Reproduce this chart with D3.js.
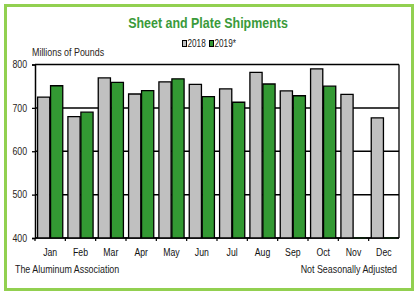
<!DOCTYPE html>
<meta charset="utf-8">
<style>
body { margin: 0; background: #fff; }
text { font-family: "Liberation Sans", Arial, sans-serif; }
</style>
<body>
<script src="https://cdn.jsdelivr.net/npm/d3@7"></script>
<script>

// chart data
var months = ["Jan", "Feb", "Mar", "Apr", "May", "Jun", "Jul", "Aug", "Sep", "Oct", "Nov", "Dec"];
var seriesNames = ["2018", "2019*"];
var values2018 = [725, 680, 769, 732, 760, 754, 744, 782, 739, 790, 731, 677];
var values2019 = [751, 690, 759, 740, 767, 726, 713, 755, 728, 750, null, null];
var yTicks = [400, 500, 600, 700, 800];

var colors = ["#c0c0c0", "#339933"];

var W = 418, H = 296;
var margin = {top: 64.5, right: 19, bottom: 58, left: 35},
    width = W - margin.left - margin.right,
    height = H - margin.top - margin.bottom;

// narrow look: squeeze text horizontally around its anchor point
function narrow(sel, sx) {
  sel.each(function() {
    var t = d3.select(this);
    var tx = +t.attr("x") || 0, ty = +t.attr("y") || 0;
    t.attr("x", 0).attr("y", 0)
     .attr("transform", "translate(" + tx + "," + ty + ") scale(" + sx + ",1)");
  });
}

var svg = d3.select("body").append("svg")
    .attr("width", W)
    .attr("height", H);

// green frame
svg.append("rect")
    .attr("x", 5.5).attr("y", 5.5)
    .attr("width", W - 11).attr("height", H - 12)
    .attr("fill", "#fff")
    .attr("stroke", "#92d050")
    .attr("stroke-width", 3);

// title
svg.append("text")
    .attr("x", 208).attr("y", 28)
    .attr("text-anchor", "middle")
    .attr("fill", "#3a9a3a")
    .attr("font-weight", "bold")
    .attr("font-size", 15)
    .text("Sheet and Plate Shipments")
    .call(narrow, 0.83);

// legend
var legend = svg.append("g")
    .attr("font-size", 10)
    .selectAll("g")
    .data(seriesNames)
    .enter().append("g")
    .attr("transform", function(d, i) { return "translate(" + (182 + i * 27) + ",47)"; });

legend.append("rect")
    .attr("x", 0.5).attr("y", -6.5)
    .attr("width", 4).attr("height", 6)
    .attr("fill", function(d, i) { return colors[i]; })
    .attr("stroke", "#000")
    .attr("stroke-width", 1);

legend.append("text")
    .attr("x", 5.5)
    .attr("y", 0)
    .attr("fill", "#222")
    .text(function(d) { return d; })
    .call(narrow, 0.82);

svg.append("text")
    .attr("x", 32).attr("y", 55.5)
    .attr("font-size", 10)
    .attr("fill", "#2a2420")
    .text("Millions of Pounds")
    .call(narrow, 0.89);

var g = svg.append("g")
    .attr("transform", "translate(" + margin.left + "," + margin.top + ")");

var x0 = d3.scaleBand()
    .domain(months)
    .range([0, width])
    .paddingInner(0.17)
    .paddingOuter(0.085);

var x1 = d3.scaleBand()
    .domain(seriesNames)
    .range([0, x0.bandwidth()])
    .paddingInner(0.06);

var y = d3.scaleLinear()
    .domain([400, 800])
    .range([height, 0])
    .clamp(true);

// gridlines
g.selectAll(".grid")
    .data(yTicks)
    .enter().append("line")
    .attr("x1", 0).attr("x2", width)
    .attr("y1", function(d) { return y(d); })
    .attr("y2", function(d) { return y(d); })
    .attr("stroke", "#000")
    .attr("stroke-width", 1.5);

// right border of plot
g.append("line")
    .attr("x1", width).attr("x2", width)
    .attr("y1", 0).attr("y2", height)
    .attr("stroke", "#000")
    .attr("stroke-width", 1.3);

// bars (drawn as paths so that a missing value still shows a flat outline)
var series = [values2018, values2019];
var barData = [];
months.forEach(function(m, i) {
  seriesNames.forEach(function(s, j) {
    barData.push({month: m, key: s, idx: j, value: series[j][i]});
  });
});

g.selectAll(".bar")
    .data(barData)
    .enter().append("path")
    .attr("class", "bar")
    .attr("d", function(d) {
      var xa = x0(d.month) + x1(d.key), xb = xa + x1.bandwidth();
      var yt = d.value == null ? y(400) : y(d.value);
      return "M" + xa + "," + y(400) + "V" + yt + "H" + xb + "V" + y(400);
    })
    .attr("fill", function(d) { return colors[d.idx]; })
    .attr("stroke", function(d) { return d.value == null ? colors[d.idx] : "#000"; })
    .attr("stroke-width", 1.3);

// y axis
var yAxis = g.append("g")
    .call(d3.axisLeft(y).tickValues(yTicks).tickSize(3).tickPadding(6));
yAxis.select(".domain").attr("stroke-width", 1.5);
yAxis.selectAll("line").attr("stroke-width", 1.3);
yAxis.selectAll("text")
    .attr("font-size", 10)
    .attr("fill", "#2a2420")
    .style("font-family", "'Liberation Sans', Arial, sans-serif")
    .attr("transform", "scale(0.88,1)");

// x axis with ticks between months
var xAxis = g.append("g")
    .attr("transform", "translate(0," + height + ")");
xAxis.append("line")
    .attr("x1", 0).attr("x2", width)
    .attr("stroke", "#000").attr("stroke-width", 1.5);
xAxis.selectAll(".tick")
    .data(months)
    .enter().append("line")
    .attr("x1", function(d) { return x0(d) - x0.step() * x0.paddingInner() / 2; })
    .attr("x2", function(d) { return x0(d) - x0.step() * x0.paddingInner() / 2; })
    .attr("y1", 0).attr("y2", 3)
    .attr("stroke", "#000").attr("stroke-width", 1.2);
xAxis.selectAll(".lbl")
    .data(months)
    .enter().append("text")
    .attr("x", function(d) { return x0(d) + x0.bandwidth() / 2; })
    .attr("y", 17.5)
    .attr("text-anchor", "middle")
    .attr("font-size", 10)
    .attr("fill", "#111")
    .text(function(d) { return d; })
    .call(narrow, 0.87);

svg.append("text")
    .attr("x", 15).attr("y", 272.5)
    .attr("font-size", 10)
    .attr("fill", "#1a1a1a")
    .text("The Aluminum Association")
    .call(narrow, 0.89);

svg.append("text")
    .attr("x", 397).attr("y", 273)
    .attr("text-anchor", "end")
    .attr("font-size", 10)
    .attr("fill", "#1a1a1a")
    .text("Not Seasonally Adjusted")
    .call(narrow, 0.89);

</script>
</body>
